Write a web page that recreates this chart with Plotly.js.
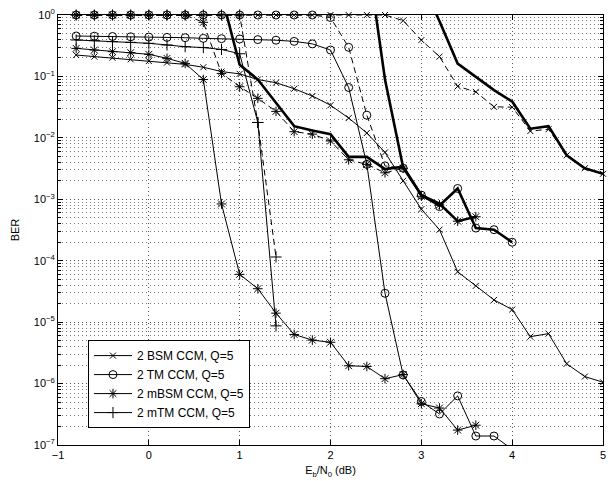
<!DOCTYPE html>
<html>
<head>
<meta charset="utf-8">
<script src="https://cdn.plot.ly/plotly-3.0.1.min.js"></script>
<style>html,body{margin:0;padding:0;background:#fff;}#chart{width:616px;height:481px;}</style>
</head>
<body>
<div id="chart"></div>
<script>
// ---- Data (Eb/N0 in dB, BER) ----
var legendNames = ["2 BSM CCM, Q=5", "2 TM CCM, Q=5", "2 mBSM CCM, Q=5", "2 mTM CCM, Q=5"];

// thin solid curves (legend entries)
var bsmX = [-0.8,-0.6,-0.4,-0.2,0,0.2,0.4,0.6,0.8,1.0,1.2,1.4,1.6,1.8,2.0,2.2,2.4,2.6,2.8,3.0,3.2,3.4,3.6,3.8,4.0,4.2,4.4,4.6,4.8,5.0];
var bsmY = [0.223,0.210,0.202,0.190,0.178,0.168,0.157,0.141,0.120,0.110,0.089,0.079,0.063,0.048,0.034,0.021,0.012,0.0058,0.0020,6.9e-4,3.2e-4,6.6e-5,3.9e-5,2.3e-5,1.6e-5,5.8e-6,6.5e-6,2.1e-6,1.3e-6,1.05e-6];

var tmX = [-0.8,-0.6,-0.4,-0.2,0,0.2,0.4,0.6,0.8,1.0,1.2,1.4,1.6,1.8,2.0,2.2,2.4,2.6,2.8,3.0,3.2,3.4,3.6,3.8,4.0];
var tmY = [0.455,0.452,0.447,0.442,0.437,0.432,0.427,0.417,0.412,0.407,0.398,0.389,0.372,0.339,0.269,0.066,0.0037,2.95e-5,1.38e-6,5.1e-7,3.2e-7,6.3e-7,1.4e-7,1.4e-7,8.5e-8];

var mbsmX = [-0.8,-0.6,-0.4,-0.2,0,0.2,0.4,0.6,0.8,1.0,1.2,1.4,1.6,1.8,2.0,2.2,2.4,2.6,2.8,3.0,3.2,3.4,3.6];
var mbsmY = [0.286,0.269,0.253,0.244,0.229,0.197,0.163,0.089,8.4e-4,6.0e-5,3.5e-5,1.4e-5,6.3e-6,5.1e-6,4.7e-6,1.95e-6,1.9e-6,1.2e-6,1.4e-6,4.7e-7,4.0e-7,1.75e-7,2.1e-7];

var mtmX = [-0.8,-0.6,-0.4,-0.2,0,0.2,0.4,0.6,0.8,1.0,1.2,1.4];
var mtmY = [0.392,0.382,0.368,0.359,0.346,0.325,0.305,0.295,0.275,0.234,0.0178,8.7e-6];

// dashed curves
var bsmDashX = [-0.8,-0.6,-0.4,-0.2,0,0.2,0.4,0.6,0.8,1.0,1.2,1.4,1.6,1.8,2.0,2.2,2.4,2.6,2.8,3.0,3.2,3.4,3.6,3.8,4.0,4.2,4.4,4.6,4.8,5.0];
var bsmDashY = [1,1,1,1,1,1,1,1,1,1,1,1,1,1,1,1,1,1,0.81,0.39,0.21,0.069,0.056,0.032,0.0316,0.0129,0.0138,0.0052,0.0032,0.0026];

var tmDashX = [-0.8,-0.6,-0.4,-0.2,0,0.2,0.4,0.6,0.8,1.0,1.2,1.4,1.6,1.8,2.0,2.2,2.4,2.6,2.8,3.0,3.2,3.4,3.6,3.8,4.0];
var tmDashY = [1,1,1,1,1,1,1,1,1,1,1,1,1,1,0.91,0.298,0.0234,0.0035,0.0032,0.00117,7.6e-4,0.0015,3.4e-4,3.2e-4,2.0e-4];

var mbsmDashX = [-0.8,-0.6,-0.4,-0.2,0,0.2,0.4,0.6,0.8,1.0,1.2,1.4,1.6,1.8,2.0,2.2,2.4,2.6,2.8,3.0,3.2,3.4,3.6];
var mbsmDashY = [1,1,1,1,1,1,1,0.76,0.112,0.068,0.044,0.027,0.0126,0.0115,0.0089,0.0044,0.0037,0.0027,0.0032,0.00112,8.1e-4,4.4e-4,5.2e-4];

var mtmDashX = [-0.8,-0.6,-0.4,-0.2,0,0.2,0.4,0.6,0.8,1.0,1.2,1.4];
var mtmDashY = [1,1,1,1,1,1,1,1,1,1,0.0178,1.15e-4];

// thick curves (no markers)
var thickAX = [0.8,1.0,1.2,1.4,1.6,1.8,2.0,2.2,2.4,2.6,2.8,3.0,3.2,3.4,3.6];
var thickAY = [2.1,0.155,0.089,0.037,0.0155,0.0132,0.0115,0.0049,0.0049,0.0031,0.0034,0.00117,8.5e-4,4.4e-4,5.2e-4];

var thickBX = [2.4,2.6,2.8,3.0,3.2,3.4,3.6,3.8,4.0];
var thickBY = [11,0.089,0.0033,0.00117,7.9e-4,0.0015,3.4e-4,3.2e-4,2.0e-4];

var thickCX = [3.0,3.2,3.4,3.6,3.8,4.0,4.2,4.4,4.6,4.8,5.0];
var thickCY = [3.5,0.79,0.162,0.1,0.060,0.039,0.0141,0.0155,0.0052,0.0032,0.0026];

var xTickVals = [-1,0,1,2,3,4,5];
var yTickVals = [1e-7,1e-6,1e-5,1e-4,1e-3,1e-2,1e-1,1];
var yTickText = ["10<sup>−7</sup>","10<sup>−6</sup>","10<sup>−5</sup>","10<sup>−4</sup>","10<sup>−3</sup>","10<sup>−2</sup>","10<sup>−1</sup>","10<sup>0</sup>"];

// ---- Styles ----
var symbols = ["x-thin-open","circle-open","asterisk-open","cross-thin-open"];
var sizes = [6,8,8,8];

function thin(x,y,i){
  return {x:x,y:y,type:"scatter",mode:"lines+markers",name:legendNames[i],
    line:{color:"#000",width:1},
    marker:{symbol:symbols[i],size:sizes[i],color:"#000",line:{color:"#000",width:1}},
    showlegend:true};
}
function dashed(x,y,i){
  return {x:x,y:y,type:"scatter",mode:"lines+markers",name:legendNames[i]+" (b)",
    line:{color:"#000",width:1,dash:"6px,4px"},cliponaxis:false,
    marker:{symbol:symbols[i],size:sizes[i],color:"#000",line:{color:"#000",width:1}},
    showlegend:false};
}
function thick(x,y){
  return {x:x,y:y,type:"scatter",mode:"lines",line:{color:"#000",width:2.6},showlegend:false,hoverinfo:"skip"};
}

var data = [
  thick(thickAX,thickAY), thick(thickBX,thickBY), thick(thickCX,thickCY),
  dashed(bsmDashX,bsmDashY,0), dashed(tmDashX,tmDashY,1), dashed(mbsmDashX,mbsmDashY,2), dashed(mtmDashX,mtmDashY,3),
  thin(bsmX,bsmY,0), thin(tmX,tmY,1), thin(mbsmX,mbsmY,2), thin(mtmX,mtmY,3)
];

var gridDash = "1px,3px";
var layout = {
  width:616, height:481,
  margin:{l:58, r:13, t:15, b:36},
  paper_bgcolor:"#fff", plot_bgcolor:"#fff",
  font:{family:"Liberation Sans, Arial, sans-serif", size:11, color:"#000"},
  showlegend:true,
  legend:{x:0.055, y:0.244, xanchor:"left", yanchor:"top", bgcolor:"#fff",
    bordercolor:"#000", borderwidth:1, font:{size:12}, itemwidth:38,
    tracegroupgap:0, traceorder:"normal"},
  xaxis:{range:[-1,5], tickvals:xTickVals, ticks:"inside", ticklen:5, tickcolor:"#000",
    showline:true, linecolor:"#000", linewidth:1, mirror:"allticks",
    showgrid:true, gridcolor:"#555", griddash:gridDash, gridwidth:1, zeroline:false,
    title:{text:"E<sub>b</sub>/N<sub>0</sub> (dB)", font:{size:11}, standoff:6},
    tickfont:{size:11}},
  yaxis:{type:"log", range:[-7,0], tickvals:yTickVals, ticktext:yTickText,
    ticks:"inside", ticklen:5, tickcolor:"#000",
    showline:true, linecolor:"#000", linewidth:1, mirror:"allticks",
    showgrid:true, gridcolor:"#555", griddash:gridDash, gridwidth:1, zeroline:false,
    minor:{dtick:"D1", ticks:"inside", ticklen:3, tickcolor:"#000", showgrid:true, gridcolor:"#777", griddash:gridDash, gridwidth:1},
    title:{text:"BER", font:{size:11}, standoff:11},
    tickfont:{size:11}}
};

Plotly.newPlot("chart", data, layout, {displayModeBar:false, staticPlot:true});
</script>
</body>
</html>
